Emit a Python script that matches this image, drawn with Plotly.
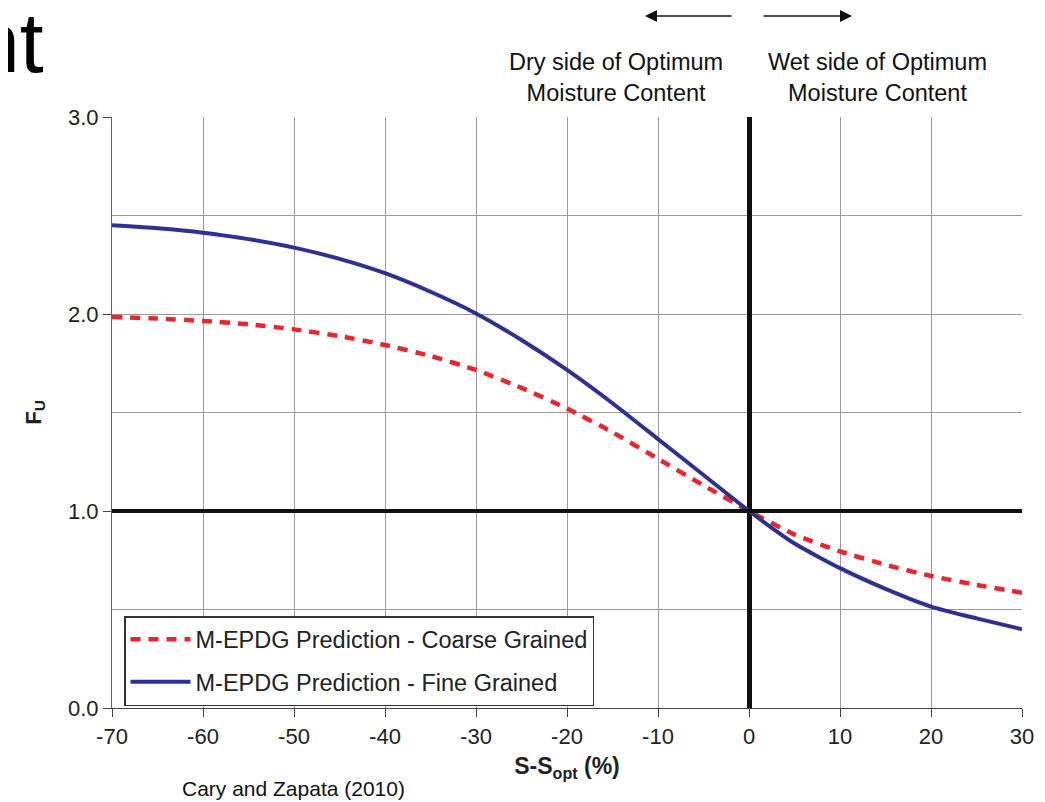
import plotly.graph_objects as go

# Data
s_minus_sopt = [-70, -65, -60, -55, -50, -45, -40, -35, -30, -25, -20,
                -15, -10, -5, 0, 5, 10, 15, 20, 25, 30]
fu_coarse = [1.985, 1.977, 1.965, 1.948, 1.922, 1.888, 1.843, 1.787, 1.716, 1.625, 1.52,
             1.40, 1.265, 1.13, 1.0, 0.88, 0.795, 0.727, 0.67, 0.625, 0.585]
fu_fine = [2.45, 2.435, 2.413, 2.38, 2.337, 2.28, 2.207, 2.113, 2.003, 1.868, 1.716,
           1.547, 1.365, 1.183, 1.0, 0.835, 0.71, 0.605, 0.515, 0.455, 0.40]
x_ticks = [-70, -60, -50, -40, -30, -20, -10, 0, 10, 20, 30]
y_ticks = [0.0, 1.0, 2.0, 3.0]

FONT = "Liberation Sans, Arial, sans-serif"
OFF = 8  # page body margin

fig = go.Figure()
fig.add_trace(go.Scatter(
    x=s_minus_sopt, y=fu_coarse, mode="lines",
    name="M-EPDG Prediction - Coarse Grained", legendgroup="a",
    line=dict(color="#e8262d", width=4.5, dash="10px,8px", shape="spline", smoothing=0.5),
))
fig.add_trace(go.Scatter(
    x=s_minus_sopt, y=fu_fine, mode="lines",
    name="M-EPDG Prediction - Fine Grained", legendgroup="b",
    line=dict(color="#2e3192", width=4, shape="spline", smoothing=0.5),
))

# reference line at Fu = 1
fig.add_shape(type="line", xref="x", yref="y", x0=-70, x1=30, y0=1, y1=1,
              line=dict(color="#111111", width=4), layer="above")

P_L, P_R, P_T, P_B = 112, 1022, 117, 708
def px(xp):
    return (xp - P_L) / (P_R - P_L)
def py(yp):
    return (P_B - yp) / (P_B - P_T)

annos = [
    dict(text="Dry side of Optimum<br>Moisture Content", x=px(616), y=py(78),
         xanchor="center", yanchor="middle", font=dict(size=23.5, color="#111", family=FONT)),
    dict(text="Wet side of Optimum<br>Moisture Content", x=px(877), y=py(78),
         xanchor="center", yanchor="middle", font=dict(size=23.5, color="#111", family=FONT)),
    dict(text="Cary and Zapata (2010)", x=px(293), y=py(788),
         xanchor="center", yanchor="middle", font=dict(size=21, color="#111", family=FONT)),
    dict(text="nt", x=px(46), y=py(42), xanchor="right", yanchor="middle",
         font=dict(size=86, color="#000", family=FONT)),
]
for a in annos:
    a.update(xref="paper", yref="paper", showarrow=False)
    fig.add_annotation(**a)

# arrows
fig.add_annotation(x=px(645), y=py(16), ax=88, ay=0, xref="paper", yref="paper",
                   text="", showarrow=True, arrowhead=2, arrowsize=1.6, arrowwidth=1.5,
                   arrowcolor="#111")
fig.add_annotation(x=px(852), y=py(16), ax=-90, ay=0, xref="paper", yref="paper",
                   text="", showarrow=True, arrowhead=2, arrowsize=1.6, arrowwidth=1.5,
                   arrowcolor="#111")

fig.update_layout(
    width=1045, height=802,
    margin=dict(l=P_L - OFF, r=1045 - P_R + OFF, t=P_T - OFF, b=802 - P_B + OFF),
    paper_bgcolor="white", plot_bgcolor="white",
    font=dict(family=FONT, color="#222"),
    showlegend=True,
    legend=dict(
        x=px(124), y=py(616), xanchor="left", yanchor="top",
        bgcolor="white", bordercolor="#333", borderwidth=1.5,
        font=dict(size=23.5, color="#222", family=FONT),
        itemwidth=60, tracegroupgap=9, traceorder="grouped",
    ),
    xaxis=dict(
        range=[-70, 30], tickmode="array", tickvals=x_ticks,
        ticktext=[str(v) for v in x_ticks],
        showgrid=True, gridcolor="#9a9a9a", gridwidth=1,
        zeroline=True, zerolinecolor="#111111", zerolinewidth=5,
        showline=True, linecolor="#444", linewidth=1.2,
        ticks="outside", ticklen=8, tickcolor="#444", tickwidth=1.2,
        tickfont=dict(size=22, color="#222", family=FONT),
        title=dict(text="<b>S-S<sub>opt</sub> (%)</b>", font=dict(size=23, color="#222", family=FONT),
                   standoff=10),
    ),
    yaxis=dict(
        range=[0, 3], tickmode="array", tickvals=y_ticks,
        ticktext=["%.1f" % v for v in y_ticks],
        showgrid=True, gridcolor="#9a9a9a", gridwidth=1,
        minor=dict(dtick=0.5, showgrid=True, gridcolor="#9a9a9a", gridwidth=1),
        zeroline=False,
        showline=True, linecolor="#666", linewidth=1.2,
        ticks="outside", ticklen=8, tickcolor="#444", tickwidth=1.2,
        tickfont=dict(size=22, color="#222", family=FONT),
        title=dict(text="<b>F<sub>U</sub></b>", font=dict(size=22, color="#222", family=FONT),
                   standoff=20),
    ),
)

fig.write_html("out.html")
